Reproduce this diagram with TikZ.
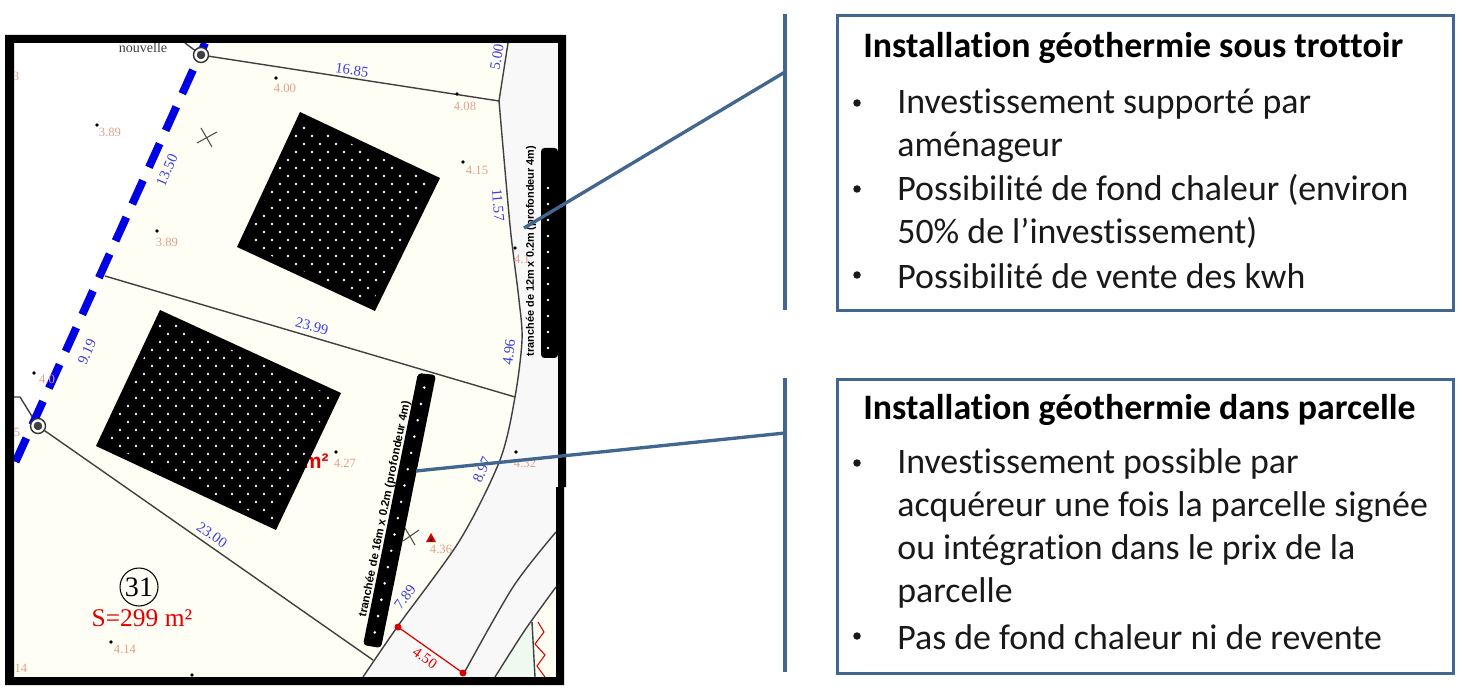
\documentclass[tikz,border=0pt]{standalone}
\usepackage{fontspec}
\usepackage{xcolor}
\usepackage{tikz}
\usetikzlibrary{calc}
\setmainfont[Ligatures=NoCommon]{Carlito}
\newfontfamily\planfont{Liberation Serif}
\newfontfamily\trenchfont{Liberation Sans}
\definecolor{boxblue}{HTML}{41668F}
\definecolor{cream}{HTML}{FFFEF4}
\definecolor{roadgray}{HTML}{F8F8F8}
\definecolor{palegreen}{HTML}{EFF9EF}
\definecolor{levelred}{HTML}{E2A08C}
\definecolor{lotblue}{HTML}{3C3CE0}
\tikzset{
    lotline/.style={draw=black!75, line width=0.8pt},
    dimlabel/.style={font=\planfont\fontsize{8.4}{10}\selectfont, text=lotblue, inner sep=0pt},
    levellabel/.style={font=\planfont\fontsize{7.2}{9}\selectfont, text=levelred, inner sep=0pt},
    trenchlabel/.style={font=\trenchfont\bfseries\fontsize{6.2}{8}\selectfont, inner sep=0pt},
    infobox/.style={draw=boxblue, line width=1.7pt, fill=white, minimum width=12.32cm, inner sep=0pt, anchor=north west},
    titletext/.style={font=\bfseries\fontsize{20.4}{24}\selectfont, anchor=west, inner sep=0pt},
    bullettext/.style={font=\fontsize{20.4}{24}\selectfont, text=black!90, anchor=west, inner sep=0pt},
    bulletmark/.style={circle, fill=black!90, minimum size=0.15cm, inner sep=0pt},
    linkline/.style={draw=boxblue, line width=1.9pt}
}

\begin{document}
\begin{tikzpicture}[x=0.02cm, y=-0.02cm]
    \useasboundingbox (0,0) rectangle (1462,695);

    % ground of the plan
    \fill[cream] (205,43) -- (15,463) -- (14,677) -- (363,677) -- (400,623) -- (460,540) -- (500,460) -- (515,397) -- (522,340) -- (519,300) -- (511,235) -- (505,170) -- (499,101) -- (508,43) -- cycle;
    \fill[roadgray] (508,43) -- (558,43) -- (558,677) -- (363,677) -- (400,623) -- (460,540) -- (500,460) -- (515,397) -- (522,340) -- (519,300) -- (511,235) -- (505,170) -- (499,101) -- cycle;
    \fill[palegreen] (532,622) -- (535,677) -- (495,677) -- cycle;
    \fill[cream] (556,587) -- (532,622) -- (535,677) -- (558,677) -- cycle;

    % lot lines
    \draw[lotline] (201,55) -- (499,101);
    \draw[lotline] (499,101) -- (508,43);
    \draw[lotline] plot[smooth] coordinates {(499,101) (505,170) (511,235) (519,300) (522,340) (515,397) (500,460) (460,540) (400,623) (363,677)};
    \draw[lotline] (105,276) -- (515,397);
    \draw[lotline] (38,426) -- (373,660);
    \draw[lotline] (38,426) -- (20,397) -- (13,397);
    \draw[lotline] (201,55) -- (185,43);
    \draw[lotline] plot[smooth] coordinates {(463,675) (513,587) (556,532)};
    \draw[lotline] plot[smooth] coordinates {(495,677) (525,630) (556,587)};
    \draw[lotline] (532,622) -- (535,677);
    \draw[red!85!black, line width=0.6pt] (538,622) -- (544,632) -- (535,644) -- (545,655) -- (537,666) -- (545,677);
    \draw[red!85!black, line width=0.7pt] (398,627) -- (463,673);
    \fill[red!85!black] (398,627) circle (3.5);
    \fill[red!85!black] (463,673) circle (3.5);

    % blue dashed limit
    \draw[blue!90!black, line width=4.5pt] (200,55) -- (205,43);
    \draw[blue!90!black, line width=4.5pt, dash pattern=on 14.8pt off 8.2pt] (193,70) -- (15,463);

    % survey points
    \foreach \px/\py in {201/55, 38/426} {
        \fill[black!75] (\px,\py) circle (4.5);
        \draw[fill=white, draw=none, even odd rule] (\px,\py) circle (7.5) circle (4.5);
        \draw[black!80, line width=0.8pt] (\px,\py) circle (7.5);
    }

    % levels
    \foreach \dx/\dy in {97/125, 157/231, 276/78, 457/94, 463/162, 515/248, 34/373, 336/452, 516/452, 111/642, 192/675} {
        \fill (\dx,\dy) circle (1.8);
    }
    \node[levellabel] (lev1) at (110,132) {3.89};
    \node[levellabel] (lev2) at (167,242) {3.89};
    \node[levellabel] (lev3) at (285,88) {4.00};
    \node[levellabel] (lev4) at (465,106) {4.08};
    \node[levellabel] (lev5) at (477,170) {4.15};
    \node[levellabel] (lev6) at (522,259) {4.1};
    \node[levellabel] (lev7) at (47,379) {4.0};
    \node[levellabel] (lev8) at (345,463) {4.27};
    \node[levellabel] (lev9) at (525,463) {4.32};
    \node[levellabel] (lev10) at (441,549) {4.36};
    \node[levellabel] (lev11) at (125,649) {4.14};
    \node[levellabel] (lev12) at (21,668) {14};
    \node[levellabel] (lev13) at (16,76) {3};
    \node[levellabel] (lev14) at (17,432) {5};

    % lengths
    \node[dimlabel, rotate=-8] (len1) at (352,70) {16.85};
    \node[dimlabel, rotate=80] (len2) at (497,57) {5.00};
    \node[dimlabel, rotate=66] (len3) at (167,170) {13.50};
    \node[dimlabel, rotate=-85] (len4) at (498,205) {11.57};
    \node[dimlabel, rotate=-15] (len5) at (312,326) {23.99};
    \node[dimlabel, rotate=83] (len6) at (509,352) {4.96};
    \node[dimlabel, rotate=66] (len7) at (87,352) {9.19};
    \node[dimlabel, rotate=-35] (len8) at (212,535) {23.00};
    \node[dimlabel, rotate=66] (len9) at (482,470) {8.97};
    \node[dimlabel, rotate=52] (len10) at (405,597) {7.89};
    \node[dimlabel, rotate=-35, text=red!85!black] (len11) at (425,658) {4.50};

    % crosses and mark
    \draw[black!70, line width=0.6pt] (197,143) -- (217,132);
    \draw[black!70, line width=0.6pt] (201,128) -- (212,147);
    \draw[black!70, line width=0.6pt] (403,541) -- (419,530);
    \draw[black!70, line width=0.6pt] (405,528) -- (415,545);
    \fill[red!85!black] (426,542) -- (431,533) -- (436,542) -- cycle;
    \fill (431,540) circle (1.6);

    \node[inner sep=0pt, font=\planfont\fontsize{8}{10}\selectfont, text=black!75] (nouvelle) at (143,48) {nouvelle};
    \node[draw, circle, line width=0.6pt, minimum size=0.76cm, inner sep=0pt, font=\planfont\fontsize{16}{18}\selectfont] (lot31) at (139,587) {31};
    \node[inner sep=0pt, font=\planfont\fontsize{14.5}{17}\selectfont, text=red!90!black] (surface) at (142,618) {S=299 m²};
    \node[inner sep=0pt, anchor=east, font=\trenchfont\bfseries\fontsize{12}{14}\selectfont, text=red!90!black] (surfacehidden) at (329,461) {m²};

    % the two fields of probes
    \fill (300,112) -- (440,178) -- (375,311) -- (237,247) -- cycle;
    \fill (160,310) -- (341,393) -- (276,530) -- (96,446) -- cycle;
    \begin{scope}
        \clip (300,120) -- (431,181) -- (372,303) -- (246,244) -- cycle;
        \foreach \x in {240,256,...,440} {
            \foreach \y in {112,128,...,312} {
                \fill[white] (\x,\y) circle (1.4);
                \fill[white] (\x+8,\y+8) circle (1.4);
            }
        }
    \end{scope}
    \begin{scope}
        \clip (162,318) -- (332,396) -- (273,522) -- (105,443) -- cycle;
        \foreach \x in {96,112,...,344} {
            \foreach \y in {310,326,...,530} {
                \fill[white] (\x,\y) circle (1.4);
                \fill[white] (\x+8,\y+8) circle (1.4);
            }
        }
    \end{scope}

    % trenches
    \fill[rounded corners=2pt] (541,148) rectangle (558,358);
    \foreach \y in {188,204,...,348} {
        \fill[white] (548,\y) circle (1.4);
    }
    \fill[rounded corners=2pt] (418,373) -- (436,375) -- (381,648) -- (363,645) -- cycle;
    \foreach \t in {0.05,0.11,...,0.98} {
        \fill[white] ($(427,374)!\t!(372,646)$) circle (1.4);
    }
    \node[trenchlabel, rotate=90] (trench1) at (531,251) {tranchée de 12m x 0.2m (profondeur 4m)};
    \node[trenchlabel, rotate=78.5, font=\trenchfont\bfseries\fontsize{6.5}{8}\selectfont] (trench2) at (385,509) {tranchée de 16m x 0.2m (profondeur 4m)};

    % frame
    \fill[even odd rule] (5,35) -- (566,35) -- (566,487) -- (564,487) -- (564,685) -- (5,685) -- cycle (14,43) -- (14,677) -- (556,677) -- (556,487) -- (558,487) -- (558,43) -- cycle;

    % boxes on the right
    \node[infobox, minimum height=5.9cm] (boxtrottoir) at (836,14) {};
    \node[infobox, minimum height=5.88cm] (boxparcelle) at (836,378) {};
    \coordinate (barAtop) at (785,14);
    \coordinate (barAbottom) at (785,310);
    \coordinate (barBtop) at (785,378);
    \coordinate (barBbottom) at (785,672);
    \coordinate (linkA) at (785,72);
    \coordinate (linkB) at (785,433);
    \coordinate (trenchA) at (524,228);
    \coordinate (trenchB) at (416,471);
    \draw[linkline] (barAtop) -- (barAbottom);
    \draw[linkline] (barBtop) -- (barBbottom);
    \draw[linkline] (linkA) -- (trenchA);
    \draw[linkline] (linkB) -- (trenchB);

    \node[titletext] (titleA) at (863,48) {Installation géothermie sous trottoir};
    \node[bulletmark] (bulA1) at (857,103) {};
    \node[bullettext] (lineA1) at (897,104) {Investissement supporté par};
    \node[bullettext] (lineA2) at (897,147) {aménageur};
    \node[bulletmark] (bulA2) at (857,189) {};
    \node[bullettext] (lineA3) at (897,190) {Possibilité de fond chaleur (environ};
    \node[bullettext] (lineA4) at (897,233) {50\% de l’investissement)};
    \node[bulletmark] (bulA3) at (857,275) {};
    \node[bullettext] (lineA5) at (897,276) {Possibilité de vente des kwh};

    \node[titletext] (titleB) at (863,410) {Installation géothermie dans parcelle};
    \node[bulletmark] (bulB1) at (857,463) {};
    \node[bullettext] (lineB1) at (897,464) {Investissement possible par};
    \node[bullettext] (lineB2) at (897,507) {acquéreur une fois la parcelle signée};
    \node[bullettext] (lineB3) at (897,550) {ou intégration dans le prix de la};
    \node[bullettext] (lineB4) at (897,593) {parcelle};
    \node[bulletmark] (bulB2) at (857,636) {};
    \node[bullettext] (lineB5) at (897,637) {Pas de fond chaleur ni de revente};
\end{tikzpicture}
\end{document}
